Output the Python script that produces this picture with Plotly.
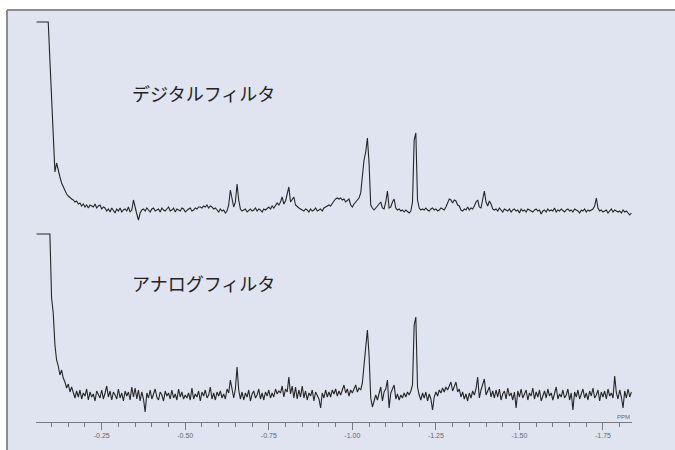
import numpy as np
import plotly.graph_objects as go

# Chemical shift sampling (ppm), uniform 0.005 ppm step, high field to the right
PPM_START = -0.055
PPM_STEP = -0.005

# Digital filter spectrum intensities (arbitrary units, baseline = 0, clipped solvent line = 188)
digital = [
    188, 188, 188, 188, 188, 188, 188, 188, 150, 112,
    75, 38, 47, 38, 33, 27, 23, 19, 16, 14,
    12, 11, 10, 8, 9, 6, 7,
    4, 6, 3, 5, 2, 5, 4, 3, 6, 2, 4, 5, 1, 3, 2,
    -1, 1, -2, 2, 0, -3, 1, -1, 2, -2, 0, 1, -1, 3, -2, 0,
    10, 1, -4, -10, -3, 0,
    1, -1, 2, 0, -2, 1, 2, -1, 0, 1, -2, 2, 0, -1, 1, 3, -1, 0, 2, -2,
    1, 0, -1, 2, 1, -2, 0, 1, 2, -1, 0, 2, 1, 3,
    3, 2, 4, 3, 5, 2, 4, 3, 1, 2,
    0, -2, 1, -1, 0, -3, -1,
    5, 20, 12, 3, 8, 26, 10, 1,
    -1, 0, 1, -2, 0, 1, -1, 0, 2, -1, 1, 0, -2, 1, 0, 2, 3, 1, 4, 2, 5,
    7, 5, 8, 13, 6, 9, 17, 23, 8, 10, 13, 5, 3,
    2, 1, 0, -1, 1, 0, -2, 1, -1, 0, 2, -1, 0, 1, -1, 2, 3, 4,
    5, 4, 7, 9, 11, 12, 11, 12, 10, 11, 8, 10, 11, 5, 3,
    6, 8, 10, 12, 17, 35, 50, 58, 72, 47, 5, 2, 0,
    2, 4, 6, 8, 2, 1, 8, 19, 2, 3, 8, 11, 2, 0, 1, -1, 0, -2, 0, -2, -3, -1,
    8, 70, 77, 10, 2, 0,
    1, 0, 2, 0, -1, 1, 2, 0, 1, -1, 0, 2, 1, 0,
    3, 8, 11, 10, 7, 10, 9, 5, 4,
    0, -1, 1, 0, 3, 0, 2, 1, 4, 8, 10, 3, 2, 10, 19, 8, 4, 9, 6, 1,
    0, 1, -1, 2, 0, -2, 1, 0, -1, 1, -2, 0, 1, -1, 0, -3, 1, -1, 0, -2,
    1, 0, -1, -2, 0, 1, -1, 0, -4, -1, 0, -2, 1, -1, 0, -1, 2, -2, 0, -1,
    1, -1, -2, 0, 1, -1, 0, -2, 1, 0, -1, -3, 0, -1, 1, -2, 0, -1, 0, 1,
    4, 12, 2,
    -1, 0, -2, -1, 0, -3, -1, 1, -2, 0, -1, -2, -1, -3, 0, -2, -1, -3, -5, -3,
]

# Analog filter spectrum intensities (same units, clipped solvent line = 161)
analog = [
    161, 161, 161, 161, 161, 161, 161, 161, 161,
    97, 82, 50, 35, 29, 20, 25, 17, 13, 7, 11, 3, 8, 1,
    -3, 4, -2, 5, -4, 2, -1, 6, -5, 3, -2, 1, -6, 4, 0, -3, 5, -4, 2,
    9,
    -2, 4, -5, 3, 0, -4, 6, -3, 2, -6, 4, -1, 3, -5, 8,
    -2, 7, -4, 5, -6, 3, -4, -17, 2,
    -3, 5, -4, 1, 6, -2, -5, 3, 0, -6, 4, -1, 2, -4, 5, -3, 1, -5, 6, -2,
    3, -4, 0, -3, 2, -5, 7, -4, 1, -2, 4, -6, 3, -1, 5, -3, 0, 8, -4, 2,
    -5, 3, -1, 4, -3, 1, -4, 6,
    2, 15, 4, -3, 6, 28, 5, -4,
    3, -5, 2, -2, 5, -6, 1, 4, -3, 0, 6, -4, 2, -5, 3, -1, 5, -3, 2, -2, 6, 1, 4,
    2, 9, -2, 6, 3, 18, 1, 9, -3, 8, -4, 5, -2, 9,
    -3, 4, -5, 2, -1, 5, -6, 3, 0, -4, -13, 2, -3, 5, -2,
    3, -2, 5, 1, 6, -1, 4, 0, 5, 10, 2, 6, -1, 5, 2,
    6, 10, 3, 7, 5, 12, 30, 50, 65, 40, -3, -12, -7,
    0, -5, 2, 8, -6, 3, 6, 15, -13, 2, 6, 10, -4, 1, -5, 0, -3, 2, -2, 3, 0, 4,
    10, 70, 78, 8, 0,
    -5, 2, -3, 3, -6, 1, -4, -15, -2, 3, -1, 5, 2, 7, 3, 8, 5, 9, 13, 4, 8, 13, 3, 6,
    -2, 3, -4, 1, -6, 2, -3, 4, 0, 6, 18, -3, 5, 10, 16, 0, 5, 8, -2, 4,
    -3, 5, -2, 6, -5, 1, 4, -4, 7, -1, 2, -5, 3,
    -13,
    4, -2, 6, -3, 1, 5, -5, 2, -1, 7, -4, 3, -2, 5, -6, 0, 4, -3, 6, -1,
    2, -5, 3, 8, -4, 1, -2, 5, -3, 0, 6, -5, 2,
    -15,
    3, -2, 5, -4, 1, 6, -3, 2, -5, 4, -1, 7, -3, 0, 5, -6, 3, -2, 4, -4, 6, -1, 2, -3,
    19, 2, -4, 5, -2, -13, 4, -3, 6, -2, 3,
]

labels = ["デジタルフィルタ", "アナログフィルタ"]
tick_ppm = [-0.25, -0.50, -0.75, -1.00, -1.25, -1.50, -1.75]
tick_text = ["-0.25", "-0.50", "-0.75", "-1.00", "-1.25", "-1.50", "-1.75"]
x_range = [-0.0534, -1.8368]

ppm_digital = PPM_START + PPM_STEP * np.arange(len(digital))
ppm_analog = PPM_START + PPM_STEP * np.arange(len(analog))

W, H = 675, 450
ML, MR, MT, MB = 36, 43, 12, 28
PW, PH = W - ML - MR, H - MT - MB


def px(xp):
    return (xp - ML) / PW


def py(yp):
    return (H - MB - yp) / PH


BG = "#e0e4f1"
LINE = "#262626"
AXIS = "#7a7a7a"

fig = go.Figure()
fig.add_trace(go.Scatter(x=ppm_analog, y=analog, mode="lines",
                         line=dict(color=LINE, width=1.1), yaxis="y",
                         hoverinfo="skip", showlegend=False))
fig.add_trace(go.Scatter(x=ppm_digital, y=digital, mode="lines",
                         line=dict(color=LINE, width=1.1), yaxis="y2",
                         hoverinfo="skip", showlegend=False))

fig.update_layout(
    width=W, height=H,
    margin=dict(l=ML, r=MR, t=MT, b=MB, pad=0),
    paper_bgcolor="white",
    plot_bgcolor="rgba(0,0,0,0)",
    showlegend=False,
    xaxis=dict(
        range=x_range, showgrid=False, zeroline=False,
        showline=True, linecolor=AXIS, linewidth=1,
        ticks="outside", ticklen=7, tickwidth=1, tickcolor=AXIS,
        tickmode="array", tickvals=tick_ppm, ticktext=tick_text,
        tickfont=dict(family="Liberation Sans", size=7, color="#666666"),
        minor=dict(ticks="outside", ticklen=4, tickwidth=1, tickcolor=AXIS,
                   tick0=0, dtick=0.05, showgrid=False),
    ),
    yaxis=dict(range=[-27, 383], visible=False, fixedrange=True),
    yaxis2=dict(range=[-212, 198], visible=False, overlaying="y", fixedrange=True),
    shapes=[
        dict(type="rect", xref="paper", yref="paper", layer="below",
             x0=px(7), x1=px(W + 5), y0=py(H + 5), y1=py(10),
             fillcolor=BG, line=dict(width=0)),
        dict(type="line", xref="paper", yref="paper", layer="above",
             x0=px(7), x1=px(W + 5), y0=py(10), y1=py(10),
             line=dict(color="#8c8c8c", width=2)),
        dict(type="line", xref="paper", yref="paper", layer="above",
             x0=px(7), x1=px(7), y0=py(10), y1=py(H + 5),
             line=dict(color="#8c8c8c", width=2)),
    ],
    annotations=[
        dict(text=labels[0], xref="paper", yref="paper", x=px(130), y=py(93),
             xanchor="left", yanchor="middle", showarrow=False,
             font=dict(family="Noto Sans CJK JP", size=18, color="#222222")),
        dict(text=labels[1], xref="paper", yref="paper", x=px(130), y=py(283),
             xanchor="left", yanchor="middle", showarrow=False,
             font=dict(family="Noto Sans CJK JP", size=18, color="#222222")),
        dict(text="PPM", xref="paper", yref="paper", x=1.0, y=py(417),
             xanchor="right", yanchor="middle", showarrow=False,
             font=dict(family="Liberation Sans", size=6, color="#666666")),
    ],
)

fig.write_html("out.html")
